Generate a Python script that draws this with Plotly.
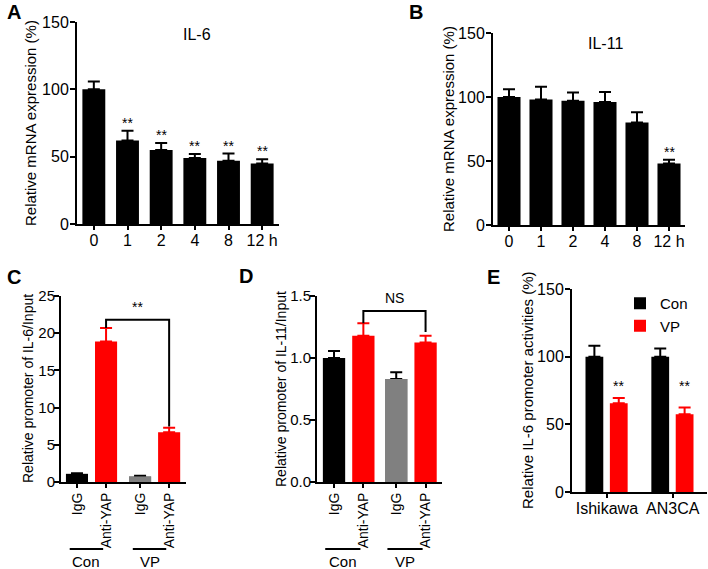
import plotly.graph_objects as go

W, H = 708, 569

# ---------------- data ----------------
# Panel A: IL-6 mRNA
a_cats = ["0", "1", "2", "4", "8", "12 h"]
a_vals = [100, 62, 55, 49, 47, 45]
a_errs = [5.8, 7.2, 5.2, 3.0, 5.3, 3.0]
a_sig = ["", "**", "**", "**", "**", "**"]
a_title = "IL-6"
a_ytitle = "Relative mRNA expression (%)"

# Panel B: IL-11 mRNA
b_cats = ["0", "1", "2", "4", "8", "12 h"]
b_vals = [100, 98, 97, 96, 80, 48]
b_errs = [6.0, 10.0, 6.5, 8.0, 8.0, 3.0]
b_sig = ["", "", "", "", "", "**"]
b_title = "IL-11"
b_ytitle = "Relative mRNA expression (%)"

# Panel C: IL-6 promoter ChIP
c_groups = ["Con", "Con", "VP", "VP"]
c_labels = ["IgG", "Anti-YAP", "IgG", "Anti-YAP"]
c_vals = [1.1, 18.9, 0.75, 6.7]
c_errs = [0.06, 1.8, 0.08, 0.6]
c_sig = "**"
c_ytitle = "Relative promoter of IL-6/Input"

# Panel D: IL-11 promoter ChIP
d_groups = ["Con", "Con", "VP", "VP"]
d_labels = ["IgG", "Anti-YAP", "IgG", "Anti-YAP"]
d_vals = [1.0, 1.18, 0.83, 1.125]
d_errs = [0.056, 0.1, 0.055, 0.055]
d_sig = "NS"
d_ytitle = "Relative promoter of IL-11/Input"

# Panel E: IL-6 promoter activities
e_cats = ["Ishikawa", "AN3CA"]
e_con = [100, 100]
e_con_err = [8, 6]
e_vp = [65.5, 57.5]
e_vp_err = [4, 5]
e_sig = ["**", "**"]
e_ytitle = "Relative IL-6 promoter activities (%)"

# ---------------- styles ----------------
BLACK = "#000000"
RED = "#ff0000"
GRAY = "#808080"
FONT = "Liberation Sans, Arial, Helvetica, sans-serif"


def xd(a, b):
    return [a / W, b / W]


def yd(top, bottom):
    return [(H - bottom) / H, (H - top) / H]


def px(x):
    return x / W


def py(y):
    return (H - y) / H


def err(vals, color):
    return dict(type="data", array=vals, arrayminus=[0] * len(vals), symmetric=False,
                thickness=2, width=6, color=color)


fig = go.Figure()

# ---- A ----
fig.add_trace(go.Bar(x=a_cats, y=a_vals, error_y=err(a_errs, BLACK),
                     marker=dict(color=BLACK, line_width=0),
                     width=0.68, xaxis="x", yaxis="y", showlegend=False))
# ---- B ----
fig.add_trace(go.Bar(x=b_cats, y=b_vals, error_y=err(b_errs, BLACK),
                     marker=dict(color=BLACK, line_width=0),
                     width=0.72, xaxis="x2", yaxis="y2", showlegend=False))


def bar_color(group, label):
    if label == "IgG":
        return BLACK if group == "Con" else GRAY
    return RED


def chip_positions(groups, gap):
    pos, g_idx, last, m = [], -1, None, 0
    for g in groups:
        if g != last:
            g_idx += 1
            m = 0
            last = g
        pos.append(g_idx * gap + m)
        m += 1
    return pos


c_pos = chip_positions(c_groups, 2.17)
d_pos = chip_positions(d_groups, 2.12)

for groups, labels, vals, errs, pos, xa, ya in [
    (c_groups, c_labels, c_vals, c_errs, c_pos, "x3", "y3"),
    (d_groups, d_labels, d_vals, d_errs, d_pos, "x4", "y4"),
]:
    for g, l, v, er, p in zip(groups, labels, vals, errs, pos):
        col = bar_color(g, l)
        fig.add_trace(go.Bar(x=[p], y=[v], error_y=err([er], RED if col == RED else BLACK),
                             marker=dict(color=col, line_width=0),
                             width=0.76, xaxis=xa, yaxis=ya, showlegend=False))
        if col == GRAY:
            fig.add_trace(go.Bar(x=[p], y=[v], marker=dict(color=col, line_width=0),
                                 width=0.76, xaxis=xa, yaxis=ya, showlegend=False))

# ---- E ----
e_x = list(range(len(e_cats)))
fig.add_trace(go.Bar(x=[i - 0.19 for i in e_x], y=e_con, error_y=err(e_con_err, BLACK), name="Con",
                     marker=dict(color=BLACK, line_width=0), width=0.27,
                     xaxis="x5", yaxis="y5"))
fig.add_trace(go.Bar(x=[i + 0.18 for i in e_x], y=e_vp, error_y=err(e_vp_err, RED), name="VP",
                     marker=dict(color=RED, line_width=0), width=0.27,
                     xaxis="x5", yaxis="y5"))

annotations = []
shapes = []


def ann(**kw):
    d = dict(showarrow=False, xanchor="center", yanchor="middle")
    d.update(kw)
    annotations.append(d)


# significance marks A, B
for vals, errs, sig, xa, ya in [
    (a_vals, a_errs, a_sig, "x", "y"),
    (b_vals, b_errs, b_sig, "x2", "y2"),
]:
    for i, (v, er, s) in enumerate(zip(vals, errs, sig)):
        if s:
            ann(x=i, y=v + er, xref=xa, yref=ya, text=s, yanchor="bottom", yshift=-2,
                font=dict(size=14))

# brackets C, D
for vals, errs, pos, sig, xa, ya, top_pad, right_pad in [
    (c_vals, c_errs, c_pos, c_sig, "x3", "y3", 1.1, 0.15),
    (d_vals, d_errs, d_pos, d_sig, "x4", "y4", 0.1, 0.03),
]:
    i1, i2 = 1, 3
    t1 = vals[i1] + errs[i1]
    t2 = vals[i2] + errs[i2]
    top = max(t1, t2) + top_pad
    shapes.append(dict(type="path", xref=xa, yref=ya,
                       path=f"M {pos[i1]},{t1} L {pos[i1]},{top} L {pos[i2]},{top} L {pos[i2]},{t2 + right_pad}",
                       line=dict(color=BLACK, width=2)))
    ann(x=(pos[i1] + pos[i2]) / 2, y=top, xref=xa, yref=ya, text=sig,
        yanchor="bottom", yshift=3, font=dict(size=14))

# group lines & labels below C, D
for groups, pos, xa, w0, w1 in [
    (c_groups, c_pos, "x3", 0.25, 0.1),
    (d_groups, d_pos, "x4", 0.3, 0.1),
]:
    seen = []
    for g in groups:
        if g not in seen:
            seen.append(g)
    for g in seen:
        ps = [p for gg, p in zip(groups, pos) if gg == g]
        x0, x1 = ps[0] - w0, ps[-1] - w1
        shapes.append(dict(type="line", xref=xa, yref="paper", x0=x0, x1=x1,
                           y0=py(549), y1=py(549), line=dict(color=BLACK, width=2)))
        ann(x=(x0 + x1) / 2, y=py(561), xref=xa, yref="paper", text=g, font=dict(size=15))

# E significance
e_star_y = max(v + er for v, er in zip(e_vp, e_vp_err)) + 3
for i, s in zip(e_x, e_sig):
    ann(x=i + 0.18, y=e_star_y, xref="x5", yref="y5", text=s,
        yanchor="bottom", yshift=-2, font=dict(size=14))

# titles in A / B
ann(x=px(197), y=py(34), xref="paper", yref="paper", text=a_title, font=dict(size=16))
ann(x=px(605), y=py(43), xref="paper", yref="paper", text=b_title, font=dict(size=16))

# y-axis titles (rotated text)
for t, tx, ty, fs in [(a_ytitle, 30, 123, 15), (b_ytitle, 448, 129, 15),
                      (c_ytitle, 28, 389, 14), (d_ytitle, 281, 389, 14),
                      (e_ytitle, 528, 390, 15)]:
    ann(x=px(tx), y=py(ty), xref="paper", yref="paper", text=t, textangle=-90,
        font=dict(size=fs))

# panel letters
for letter, lx, ly in [("A", 14, 12), ("B", 416, 12), ("C", 14, 277), ("D", 246, 276), ("E", 493, 277)]:
    ann(x=px(lx), y=py(ly), xref="paper", yref="paper", text=f"<b>{letter}</b>", font=dict(size=20))

axis_common = dict(showline=True, linewidth=2, linecolor=BLACK, showgrid=False, zeroline=False,
                   ticks="outside", tickwidth=2, tickcolor=BLACK, mirror=False, automargin=False)


def yax(domain, rng, tickvals, tsize, fmt=None, anchor="x", standoff=-2):
    d = dict(axis_common, domain=domain, range=rng, tickvals=tickvals, ticklen=5,
             ticklabelstandoff=standoff, tickfont=dict(size=tsize), anchor=anchor)
    if fmt:
        d["tickformat"] = fmt
    return d


def xax(domain, anchor, tsize, standoff, **kw):
    d = dict(axis_common, domain=domain, anchor=anchor, ticklen=4,
             ticklabelstandoff=standoff, tickfont=dict(size=tsize))
    d.update(kw)
    return d


layout = dict(
    width=W, height=H, margin=dict(l=0, r=0, t=0, b=0, pad=0),
    paper_bgcolor="white", plot_bgcolor="white", barmode="overlay",
    font=dict(family=FONT, color=BLACK),
    xaxis=xax(xd(77, 279), "y", 16, -3, type="category", range=[-0.5, 5.5]),
    yaxis=yax(yd(22, 224), [0, 150], [0, 50, 100, 150], 16, anchor="x"),
    xaxis2=xax(xd(493, 685), "y2", 16, -3, type="category", range=[-0.5, 5.5]),
    yaxis2=yax(yd(33, 225), [0, 150], [0, 50, 100, 150], 16, anchor="x2"),
    xaxis3=xax(xd(61, 186), "y3", 14, -1, range=[-0.55, 3.75],
               tickvals=c_pos, ticktext=c_labels, tickangle=-90),
    yaxis3=yax(yd(296, 482), [0, 25], [0, 5, 10, 15, 20, 25], 15, anchor="x3", standoff=-4),
    xaxis4=xax(xd(317, 442), "y4", 14, -1, range=[-0.58, 3.68],
               tickvals=d_pos, ticktext=d_labels, tickangle=-90),
    yaxis4=yax(yd(296, 482), [0, 1.5], [0, 0.5, 1.0, 1.5], 15, ".1f", anchor="x4", standoff=-4),
    xaxis5=xax(xd(572, 707), "y5", 16, -3, range=[-0.53, 1.52],
               tickvals=e_x, ticktext=e_cats),
    yaxis5=yax(yd(289, 492), [0, 150], [0, 50, 100, 150], 16, anchor="x5"),
    legend=dict(x=px(620), y=py(287), xanchor="left", yanchor="top", font=dict(size=15),
                bgcolor="rgba(0,0,0,0)", tracegroupgap=0),
    annotations=annotations, shapes=shapes,
)
fig.update_layout(**layout)
fig.write_html("out.html", config={"displayModeBar": False},
               post_script="document.body.style.margin='0px';document.body.style.overflow='hidden';")
